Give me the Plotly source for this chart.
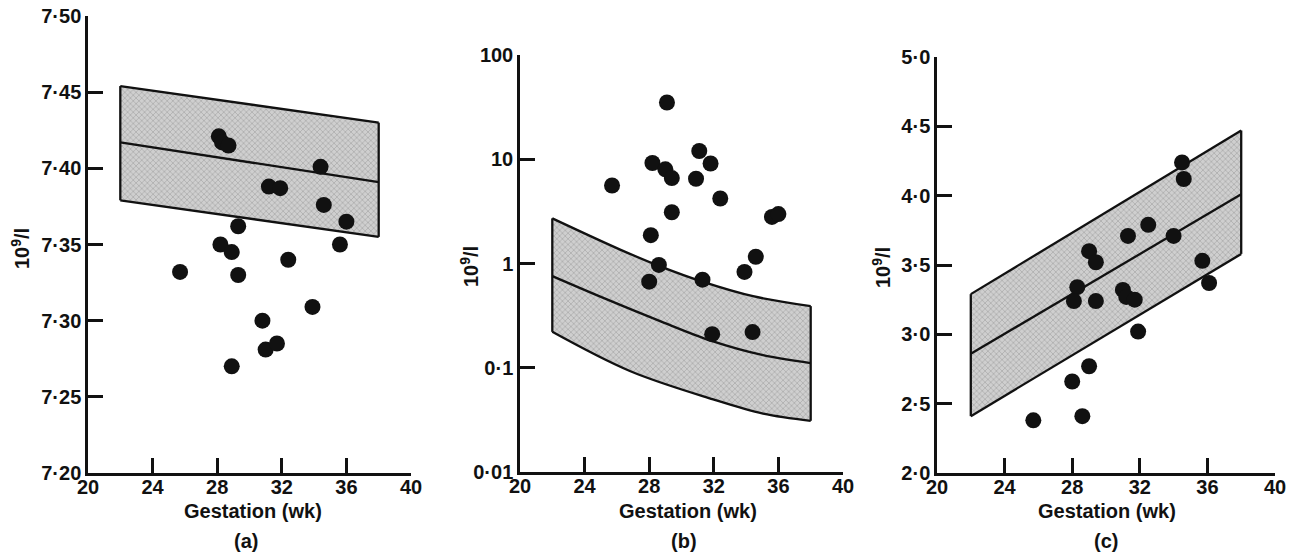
import plotly.graph_objects as go

a_wk = [25.7, 28.1, 28.3, 28.7, 34.4, 31.2, 31.9, 34.6, 36.0, 29.3, 28.2, 28.9, 29.3,
        35.6, 32.4, 33.9, 30.8, 31.0, 31.7, 28.9]
a_val = [7.332, 7.421, 7.417, 7.415, 7.401, 7.388, 7.387, 7.376, 7.365, 7.362, 7.350,
         7.345, 7.330, 7.350, 7.340, 7.309, 7.300, 7.281, 7.285, 7.270]

b_wk = [29.1, 31.1, 28.2, 31.8, 29.0, 29.4, 30.9, 25.7, 32.4, 29.4, 35.6, 36.0, 28.1,
        28.6, 28.0, 31.3, 33.9, 34.6, 31.9, 34.4]
b_val = [35, 12, 9.2, 9.1, 8.0, 6.6, 6.5, 5.6, 4.2, 3.1, 2.8, 2.98, 1.87, 0.97, 0.67,
         0.70, 0.83, 1.16, 0.21, 0.22]

c_wk = [34.5, 34.6, 32.5, 31.3, 34.0, 29.0, 29.4, 35.7, 36.1, 28.3, 28.1, 29.4, 31.0,
        31.2, 31.7, 31.9, 29.0, 28.0, 28.6, 25.7]
c_val = [4.24, 4.12, 3.79, 3.71, 3.71, 3.60, 3.52, 3.53, 3.37, 3.34, 3.24, 3.24, 3.32,
         3.27, 3.25, 3.02, 2.77, 2.66, 2.41, 2.38]

# reference bands (upper / centre / lower)
a_band_wk = [22, 38]
a_upper = [7.454, 7.430]
a_centre = [7.417, 7.391]
a_lower = [7.379, 7.355]

b_upper_wk = [22, 26.2, 28.56, 31.34, 34.43, 38]
b_upper = [2.71, 1.36, 0.955, 0.667, 0.486, 0.39]
b_centre_wk = [22, 25.16, 28.56, 31.86, 35.05, 38]
b_centre = [0.757, 0.468, 0.285, 0.181, 0.132, 0.111]
b_lower_wk = [22, 26.8, 31.96, 35.05, 38]
b_lower = [0.221, 0.093, 0.0497, 0.0363, 0.031]

c_band_wk = [22, 38]
c_upper = [3.29, 4.47]
c_centre = [2.86, 4.01]
c_lower = [2.41, 3.58]

x_ticks = [20, 24, 28, 32, 36, 40]
a_ticks = [7.20, 7.25, 7.30, 7.35, 7.40, 7.45, 7.50]
a_ticktext = ["7·20", "7·25", "7·30", "7·35", "7·40", "7·45", "7·50"]
b_ticks = [0.01, 0.1, 1, 10, 100]
b_ticktext = ["0·01", "0·1", "1", "10", "100"]
c_ticks = [2.0, 2.5, 3.0, 3.5, 4.0, 4.5, 5.0]
c_ticktext = ["2·0", "2·5", "3·0", "3·5", "4·0", "4·5", "5·0"]

W, H = 1300, 554
FONT = "Liberation Sans, Arial, sans-serif"
INK = "#111111"
hatch = dict(shape="x", size=4, solidity=0.3, fgcolor="#7a7a7a", bgcolor="#cfcfcf")

fig = go.Figure()


def add_panel(fig, xa, ya, up_x, up_y, ce_x, ce_y, lo_x, lo_y, px, py, spline):
    shape = "spline" if spline else "linear"
    line = dict(color=INK, width=2.3, shape=shape)
    # lower edge, then upper edge filled down to it
    fig.add_trace(go.Scatter(x=lo_x, y=lo_y, mode="lines", line=line,
                             xaxis=xa, yaxis=ya, hoverinfo="skip"))
    fig.add_trace(go.Scatter(x=up_x, y=up_y, mode="lines", line=line,
                             fill="tonexty", fillcolor="#cfcfcf", fillpattern=hatch,
                             xaxis=xa, yaxis=ya, hoverinfo="skip"))
    # vertical ends of the band
    fig.add_trace(go.Scatter(x=[lo_x[0], up_x[0], None, lo_x[-1], up_x[-1]],
                             y=[lo_y[0], up_y[0], None, lo_y[-1], up_y[-1]],
                             mode="lines", line=dict(color=INK, width=2.3),
                             xaxis=xa, yaxis=ya, hoverinfo="skip"))
    fig.add_trace(go.Scatter(x=ce_x, y=ce_y, mode="lines", line=line,
                             xaxis=xa, yaxis=ya, hoverinfo="skip"))
    fig.add_trace(go.Scatter(x=px, y=py, mode="markers",
                             marker=dict(color=INK, size=16),
                             xaxis=xa, yaxis=ya))


add_panel(fig, "x", "y", a_band_wk, a_upper, a_band_wk, a_centre, a_band_wk, a_lower,
          a_wk, a_val, False)
add_panel(fig, "x2", "y2", b_upper_wk, b_upper, b_centre_wk, b_centre, b_lower_wk, b_lower,
          b_wk, b_val, True)
add_panel(fig, "x3", "y3", c_band_wk, c_upper, c_band_wk, c_centre, c_band_wk, c_lower,
          c_wk, c_val, False)

tickfont = dict(family=FONT, size=20, color=INK, weight="bold")


def xax(x0, x1, anchor):
    return dict(domain=[x0 / W, x1 / W], range=[20, 40], anchor=anchor,
                tickvals=x_ticks, ticks="inside", ticklen=15, tickwidth=2.5,
                tickcolor=INK, showline=True, linecolor=INK, linewidth=2.5,
                showgrid=False, zeroline=False, tickfont=tickfont,
                automargin=False, ticklabelstandoff=-6)


def yax(top, bottom, anchor, tv, tt, rng, log=False):
    d = dict(domain=[1 - bottom / H, 1 - top / H], range=rng, anchor=anchor,
             tickvals=tv, ticktext=tt, ticks="inside", ticklen=15, tickwidth=2.5,
             tickcolor=INK, showline=True, linecolor=INK, linewidth=2.5,
             showgrid=False, zeroline=False, tickfont=tickfont, automargin=False)
    if log:
        d["type"] = "log"
    return d


annotations = []
for cx, cy, lx, ly, yx, yy, tag in [(253, 511, 246, 541, 21, 249, "(a)"),
                                    (688, 511, 684, 541, 469, 267, "(b)"),
                                    (1107, 511, 1106, 541, 881, 268, "(c)")]:
    f = dict(family=FONT, size=20, color=INK, weight="bold")
    annotations.append(dict(text="Gestation (wk)", x=cx / W, y=1 - cy / H, xref="paper",
                            yref="paper", showarrow=False, font=f,
                            xanchor="center", yanchor="middle"))
    annotations.append(dict(text=tag, x=lx / W, y=1 - ly / H, xref="paper", yref="paper",
                            showarrow=False, font=f, xanchor="center", yanchor="middle"))
    annotations.append(dict(text="10<sup>9</sup>/l", x=yx / W, y=1 - yy / H, xref="paper",
                            yref="paper", showarrow=False, font=f, textangle=-90,
                            xanchor="center", yanchor="middle"))

fig.update_layout(
    width=W, height=H, margin=dict(l=0, r=0, t=0, b=0, autoexpand=False),
    paper_bgcolor="white", plot_bgcolor="white", showlegend=False,
    xaxis=xax(88, 411, "y"),
    yaxis=yax(16, 473, "x", a_ticks, a_ticktext, [7.2, 7.5]),
    xaxis2=xax(520, 843, "y2"),
    yaxis2=yax(55, 472, "x2", b_ticks, b_ticktext, [-2, 2], log=True),
    xaxis3=xax(937, 1275, "y3"),
    yaxis3=yax(57, 473, "x3", c_ticks, c_ticktext, [2.0, 5.0]),
    annotations=annotations,
)

# drop the browser's default page margin so the figure sits at the top-left corner
fig.write_html("out.html", config={"displayModeBar": False},
               post_script="document.body.style.margin='0';")
